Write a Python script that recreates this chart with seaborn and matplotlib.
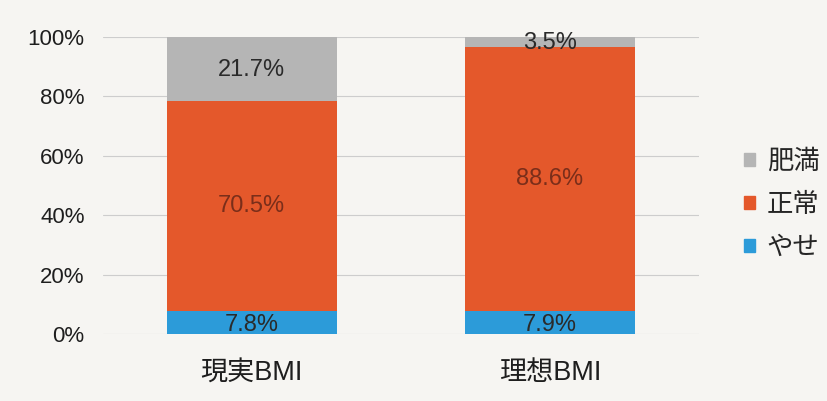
import numpy as np
import pandas as pd
import matplotlib
matplotlib.use('Agg')
import matplotlib.pyplot as plt
from matplotlib.patches import Patch
import seaborn as sns

# data
CATEGORIES = ['現実BMI', '理想BMI']
SERIES = ['やせ', '正常', '肥満']
YASE = [7.8, 7.9]
SEIJO = [70.5, 88.6]
HIMAN = [21.7, 3.5]

COLORS = {'やせ': '#2c9bd9', '正常': '#e4582b', '肥満': '#b5b5b5'}
TEXT_COLORS = {'やせ': '#2a2a2a', '正常': '#7a2e1a', '肥満': '#2a2a2a'}
BG = '#f6f5f2'

sns.set_style('white')
plt.rcParams['font.family'] = ['Liberation Sans', 'Noto Sans CJK JP', 'DejaVu Sans']

df = pd.DataFrame({'cat': CATEGORIES, 'やせ': YASE, '正常': SEIJO, '肥満': HIMAN})
df['bottom_seijo'] = df['やせ']
df['bottom_himan'] = df['やせ'] + df['正常']

fig = plt.figure(figsize=(8.28, 4.01), dpi=100)
fig.patch.set_facecolor(BG)
ax = fig.add_axes([0.124, 0.167, 0.72, 0.741])
ax.set_facecolor(BG)

# grid lines
for y in range(0, 101, 20):
    ax.axhline(y, color='#cdcdcd', linewidth=0.8, zorder=0)

# stacked bars via cumulative heights
bar_kw = dict(width=0.57, ax=ax, saturation=1, linewidth=0)
sns.barplot(data=df, x='cat', y=df['bottom_himan'] + df['肥満'], color=COLORS['肥満'],
            zorder=2, **bar_kw)
sns.barplot(data=df, x='cat', y=df['bottom_himan'], color=COLORS['正常'],
            zorder=3, **bar_kw)
sns.barplot(data=df, x='cat', y='やせ', color=COLORS['やせ'],
            zorder=4, **bar_kw)

# value labels
for i, row in df.iterrows():
    ax.text(i, row['やせ'] / 2 - 0.8, f"{row['やせ']:.1f}%", ha='center', va='center',
            fontsize=17, color=TEXT_COLORS['やせ'], zorder=5)
    ax.text(i, row['bottom_seijo'] + row['正常'] / 2, f"{row['正常']:.1f}%", ha='center',
            va='center', fontsize=17, color=TEXT_COLORS['正常'], zorder=5)
    ax.text(i, row['bottom_himan'] + row['肥満'] / 2 - 0.3, f"{row['肥満']:.1f}%", ha='center',
            va='center', fontsize=17, color=TEXT_COLORS['肥満'], zorder=5)

ax.set_xlim(-0.5, 1.5)
ax.set_ylim(0, 100)
ax.set_yticks(range(0, 101, 20))
ax.set_yticklabels([f'{v}%' for v in range(0, 101, 20)], fontsize=16, color='#1e1e1e')
ax.set_xticks([0, 1])
ax.set_xticklabels(CATEGORIES, fontsize=19.5, color='#1e1e1e')
ax.tick_params(axis='both', length=0)
ax.tick_params(axis='x', pad=19)
ax.tick_params(axis='y', pad=13)
ax.set_xlabel('')
ax.set_ylabel('')
for s in ax.spines.values():
    s.set_visible(False)

handles = [Patch(facecolor=COLORS[s], edgecolor=COLORS[s]) for s in ['肥満', '正常', 'やせ']]
fig.legend(handles, ['肥満', '正常', 'やせ'], loc='center left', bbox_to_anchor=(0.87, 0.49),
           frameon=False, fontsize=19, handlelength=0.4, handleheight=0.4,
           handletextpad=0.45, labelspacing=0.72)

fig.savefig('out.png', dpi=100, facecolor=BG)
